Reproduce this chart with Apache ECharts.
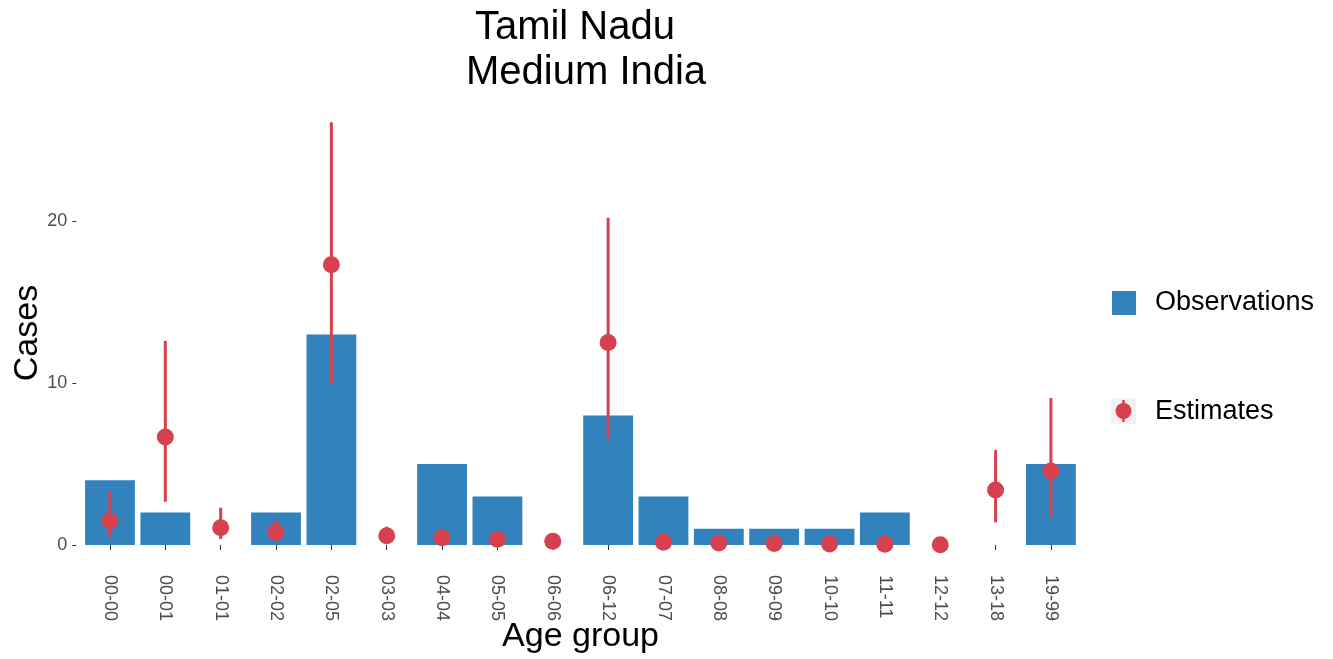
<!DOCTYPE html>
<html>
<head>
<meta charset="utf-8">
<title>Tamil Nadu – Medium India</title>
<script src="https://cdn.jsdelivr.net/npm/echarts@6/dist/echarts.min.js"></script>
<style>
  html, body { margin: 0; padding: 0; background: #ffffff; }
  #chart { width: 1333px; height: 659px; }
</style>
</head>
<body>
<div id="chart"></div>
<script>
// Age groups on the x axis
const categories = ['00-00', '00-01', '01-01', '02-02', '02-05', '03-03', '04-04', '05-05', '06-06',
  '06-12', '07-07', '08-08', '09-09', '10-10', '11-11', '12-12', '13-18', '19-99'];

// Observed case counts (bars)
const observations = [4, 2, 0, 2, 13, 0, 5, 3, 0, 8, 3, 1, 1, 1, 2, 0, 0, 5];

// Model estimates with lower / upper bounds (points + error bars)
const estimates = [1.48, 6.67, 1.07, 0.78, 17.3, 0.57, 0.45, 0.35, 0.23, 12.5, 0.17, 0.12, 0.09, 0.06, 0.04, 0.02, 3.4, 4.57];
const lower     = [0.49, 2.67, 0.37, 0.25, 10.0, 0.2, 0.15, 0.1, 0.05, 6.47, 0.04, 0.02, 0.01, 0.01, 0, 0, 1.4, 1.69];
const upper     = [3.27, 12.6, 2.3, 1.6, 26.1, 1.13, 0.9, 0.75, 0.6, 20.2, 0.5, 0.4, 0.35, 0.3, 0.25, 0.2, 5.86, 9.07];

// Y axis tick labels
const yTicks = [0, 10, 20];

const BLUE = '#3182bd';
const RED = '#d6404f';
const FONT = '"Liberation Sans", Arial, sans-serif';

const chart = echarts.init(document.getElementById('chart'), null, { renderer: 'canvas' });

const errorData = categories.map((c, i) => [i, lower[i], upper[i]]);

chart.setOption({
  animation: false,
  backgroundColor: '#ffffff',
  textStyle: { fontFamily: FONT },
  grid: { left: 82.3, width: 996.3, top: 99.5, height: 445.5 },
  xAxis: {
    type: 'category',
    data: categories,
    offset: 21,
    axisLine: { show: false },
    axisTick: { show: true, length: 5, alignWithLabel: true, lineStyle: { color: '#333333', width: 1 } },
    axisLabel: { interval: 0, rotate: -90, margin: 9, fontSize: 18, color: '#4d4d4d', fontFamily: FONT },
    splitLine: { show: false }
  },
  yAxis: {
    type: 'value',
    min: 0,
    max: 27.5,
    interval: 10,
    offset: 6,
    axisLine: { show: false },
    axisTick: { show: true, length: 4, customValues: yTicks, lineStyle: { color: '#333333', width: 1 } },
    axisLabel: { margin: 9, fontSize: 18, color: '#4d4d4d', fontFamily: FONT, customValues: yTicks },
    splitLine: { show: false }
  },
  series: [
    {
      name: 'Observations',
      type: 'bar',
      data: observations,
      barWidth: '90%',
      itemStyle: { color: BLUE },
      z: 2
    },
    {
      name: 'Estimate range',
      type: 'custom',
      data: errorData,
      z: 3,
      renderItem: function (params, api) {
        const x = api.value(0);
        const lo = api.coord([x, api.value(1)]);
        const hi = api.coord([x, api.value(2)]);
        return {
          type: 'line',
          shape: { x1: lo[0], y1: lo[1], x2: hi[0], y2: hi[1] },
          style: { stroke: RED, lineWidth: 3 }
        };
      }
    },
    {
      name: 'Estimates',
      type: 'scatter',
      data: estimates,
      symbol: 'circle',
      symbolSize: 17,
      itemStyle: { color: RED, opacity: 1 },
      z: 4
    }
  ],
  graphic: [
    {
      type: 'text', x: 580.5, y: 5,
      style: {
        text: 'Tamil Nadu \n Medium India', fontSize: 40, lineHeight: 45,
        fontFamily: FONT, fill: '#000000', align: 'center', verticalAlign: 'top'
      }
    },
    {
      type: 'text', x: 28, y: 333, rotation: Math.PI / 2,
      style: { text: 'Cases', fontSize: 34, fontFamily: FONT, fill: '#000000', align: 'center', verticalAlign: 'middle' }
    },
    {
      type: 'text', x: 580.5, y: 637,
      style: { text: 'Age group', fontSize: 34, fontFamily: FONT, fill: '#000000', align: 'center', verticalAlign: 'middle' }
    },
    // legend: Observations
    { type: 'rect', shape: { x: 1112, y: 291, width: 24, height: 24 }, style: { fill: BLUE } },
    {
      type: 'text', x: 1155, y: 302.5,
      style: { text: 'Observations', fontSize: 27, fontFamily: FONT, fill: '#000000', align: 'left', verticalAlign: 'middle' }
    },
    // legend: Estimates
    { type: 'rect', shape: { x: 1111, y: 398, width: 25, height: 26 }, style: { fill: '#f2f2f2' } },
    { type: 'line', shape: { x1: 1123.5, y1: 400, x2: 1123.5, y2: 422 }, style: { stroke: RED, lineWidth: 2.5 } },
    { type: 'circle', shape: { cx: 1123.5, cy: 411, r: 8 }, style: { fill: RED } },
    {
      type: 'text', x: 1155, y: 411.5,
      style: { text: 'Estimates', fontSize: 27, fontFamily: FONT, fill: '#000000', align: 'left', verticalAlign: 'middle' }
    }
  ]
});
</script>
</body>
</html>
